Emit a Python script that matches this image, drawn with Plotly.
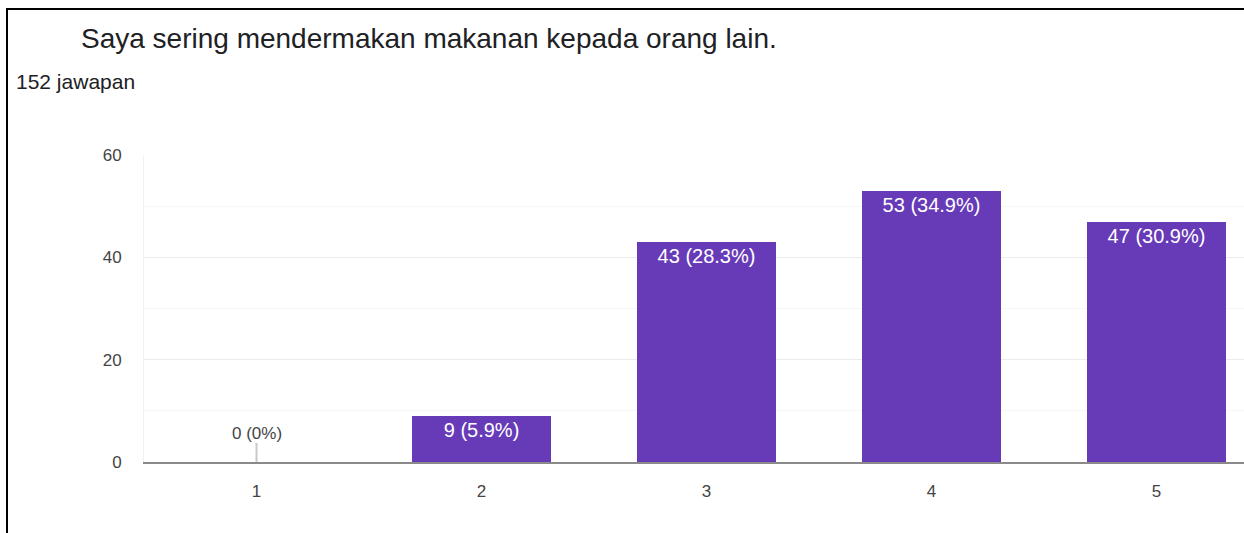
import plotly.graph_objects as go

categories = ["1", "2", "3", "4", "5"]
counts = [0, 9, 43, 53, 47]
percents = ["0%", "5.9%", "28.3%", "34.9%", "30.9%"]
title_text = "Saya sering mendermakan makanan kepada orang lain."
subtitle_text = "152 jawapan"
y_ticks = [0, 20, 40, 60]

W, H = 1244, 533
L, R, T, B = 144, 0, 155, 71
pw = W - L - R
ph = H - T - B
FONT = "Liberation Sans, Arial, sans-serif"

labels = [f"{c} ({p})" if c > 0 else "" for c, p in zip(counts, percents)]

fig = go.Figure()
fig.add_trace(go.Bar(
    x=[int(c) for c in categories],
    y=counts,
    width=0.62,
    marker=dict(color="#673ab7", line=dict(width=0)),
    text=labels,
    textposition="inside",
    insidetextanchor="end",
    textangle=0,
    textfont=dict(color="white", size=20, family=FONT),
    cliponaxis=False,
    hoverinfo="skip",
))

def px_x(x):
    return (x - L) / pw

def px_y(y):
    return (H - B - y) / ph

# zero-value labels with a stem
for c, v, p in zip(categories, counts, percents):
    if v == 0:
        fig.add_annotation(
            x=int(c), y=v, xref="x", yref="y",
            text=f"{v} ({p})", showarrow=True, arrowhead=0,
            arrowwidth=2, arrowcolor="#c8c8c8", ax=0, ay=-29,
            font=dict(color="#444444", size=17, family=FONT),
            standoff=0, borderpad=0,
        )

# title & subtitle
fig.add_annotation(
    x=px_x(79), y=px_y(38), xref="paper", yref="paper", text=title_text, showarrow=False,
    xanchor="left", yanchor="middle",
    font=dict(size=28, color="#202124", family=FONT),
)
fig.add_annotation(
    x=px_x(14), y=px_y(82), xref="paper", yref="paper", text=subtitle_text, showarrow=False,
    xanchor="left", yanchor="middle",
    font=dict(size=21, color="#202124", family=FONT),
)

# border lines (left + top)
fig.add_shape(type="line", xref="paper", yref="paper",
              x0=px_x(7), x1=px_x(7), y0=px_y(8), y1=px_y(H + 10),
              line=dict(color="black", width=2))
fig.add_shape(type="line", xref="paper", yref="paper",
              x0=px_x(6), x1=px_x(W + 10), y0=px_y(9), y1=px_y(9),
              line=dict(color="black", width=2))

fig.update_layout(
    width=W, height=H,
    margin=dict(l=L, r=R, t=T, b=B, pad=0),
    paper_bgcolor="white", plot_bgcolor="white",
    showlegend=False,
    bargap=0,
    font=dict(family=FONT, color="#444444", size=17),
)
fig.update_xaxes(
    range=[0.5, 0.5 + pw / 225.0],
    tickmode="array", tickvals=[int(c) for c in categories], ticktext=categories,
    showgrid=False, zeroline=False,
    showline=True, linecolor="#8a8a8a", linewidth=2,
    ticks="", ticklabelstandoff=13,
    tickfont=dict(size=17, color="#444444"),
)
fig.update_yaxes(
    range=[0, 60], tickmode="array", tickvals=y_ticks,
    showgrid=True, gridcolor="#ebebeb", gridwidth=1,
    minor=dict(dtick=10, tick0=0, showgrid=True, gridcolor="#f6f6f6", gridwidth=1),
    zeroline=False, showline=True, linecolor="#f0f0f0", linewidth=1,
    ticks="", ticklabelstandoff=18,
    tickfont=dict(size=17, color="#444444"),
)

fig.write_html(
    "out.html",
    config={"displayModeBar": False},
    post_script="document.body.style.margin='0';document.body.style.overflow='hidden';",
)
